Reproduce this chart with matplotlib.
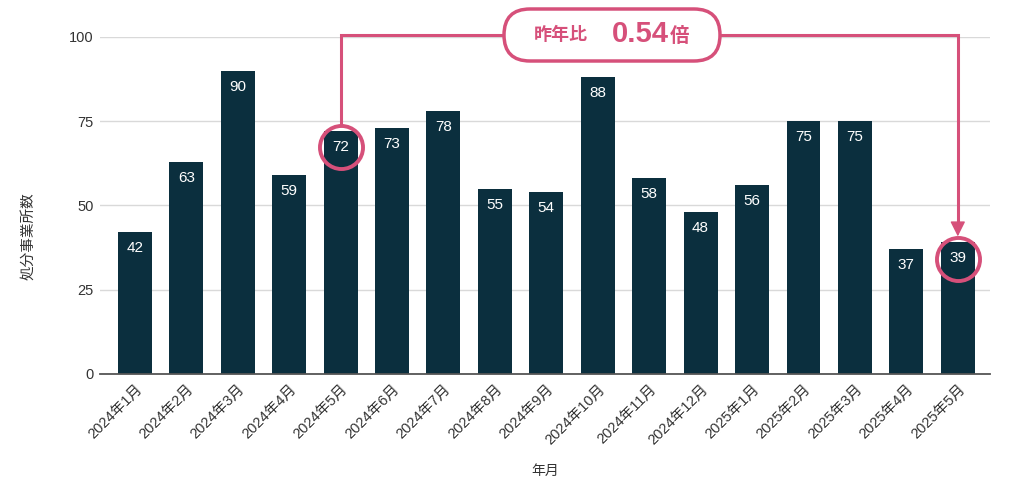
import matplotlib
matplotlib.use("Agg")
import matplotlib.pyplot as plt
from matplotlib.patches import FancyBboxPatch

months = ["2024年1月", "2024年2月", "2024年3月", "2024年4月", "2024年5月", "2024年6月",
          "2024年7月", "2024年8月", "2024年9月", "2024年10月", "2024年11月", "2024年12月",
          "2025年1月", "2025年2月", "2025年3月", "2025年4月", "2025年5月"]
counts = [42, 63, 90, 59, 72, 73, 78, 55, 54, 88, 58, 48, 56, 75, 75, 37, 39]
yticks = [0, 25, 50, 75, 100]
ratio_text = "0.54"

plt.rcParams['font.family'] = ['Liberation Sans', 'Noto Sans CJK JP', 'DejaVu Sans']

bar_color = "#0b2f3e"
pink = "#d6507a"

fig = plt.figure(figsize=(10.24, 4.92), dpi=100)
ax = fig.add_axes([0.098, 0.24, 0.869, 0.685])

x = list(range(len(months)))
ax.bar(x, counts, width=0.66, color=bar_color, zorder=2)
for xi, v in zip(x, counts):
    ax.annotate(str(v), (xi, v), xytext=(0, -11.5), textcoords="offset points",
                ha="center", va="center", color="white", fontsize=11, zorder=3)

ax.set_xlim(-0.67, 16.63)
ax.set_ylim(0, 100)
ax.set_yticks(yticks)
ax.set_xticks(x)
ax.set_xticklabels(months, rotation=45, ha="right", rotation_mode="anchor", fontsize=10.5)
ax.tick_params(axis="both", length=0, colors="#333333", labelsize=10.5)
ax.tick_params(axis="x", pad=6)
ax.tick_params(axis="y", pad=5)
ax.grid(axis="y", color="#d9d9d9", linewidth=1, zorder=0)
for s in ["top", "right", "left"]:
    ax.spines[s].set_visible(False)
ax.spines["bottom"].set_color("#555555")
ax.spines["bottom"].set_linewidth(1.3)
ax.spines["bottom"].set_zorder(4)
ax.set_xlabel("年月", fontsize=10, color="#333333", labelpad=12)
ax.set_ylabel("処分事業所数", fontsize=10.5, color="#333333")
ax.yaxis.set_label_coords(-0.073, 0.41)

# highlight circles
i0, i1 = 4, 16
for i in (i0, i1):
    ax.plot([i], [counts[i] - 4.8], marker="o", markersize=31, markerfacecolor="none",
            markeredgecolor=pink, markeredgewidth=2.8, clip_on=False, zorder=5)

# connector: line all the way down, arrowhead on a tiny shaft at the end
top = 100.6
tip = counts[i1] + 1.8
ax.plot([i0, i0, i1, i1], [counts[i0] + 1.8, top, top, tip + 3.5], color=pink,
        linewidth=2.2, clip_on=False, zorder=5, solid_joinstyle="miter",
        solid_capstyle="butt")
ax.annotate("", xy=(i1, tip), xytext=(i1, tip + 3.8),
            arrowprops=dict(arrowstyle="-|>", color=pink, lw=1, mutation_scale=23,
                            shrinkA=0, shrinkB=0),
            annotation_clip=False, zorder=5)

# pill label
box = FancyBboxPatch((5.04, 4.31), 2.16, 0.52, boxstyle="round,pad=0,rounding_size=0.26",
                     transform=fig.dpi_scale_trans, facecolor="white", edgecolor=pink,
                     linewidth=2.5, zorder=10)
fig.patches.append(box)
fig.text(5.61, 4.565, "昨年比", transform=fig.dpi_scale_trans, ha="center", va="center",
         color=pink, fontsize=13, fontweight="bold", zorder=11)
fig.text(6.40, 4.575, ratio_text, transform=fig.dpi_scale_trans, ha="center", va="center",
         color=pink, fontsize=21, fontweight="bold", zorder=11)
fig.text(6.80, 4.56, "倍", transform=fig.dpi_scale_trans, ha="center", va="center",
         color=pink, fontsize=14, fontweight="bold", zorder=11)

fig.savefig("out.png", dpi=100)
